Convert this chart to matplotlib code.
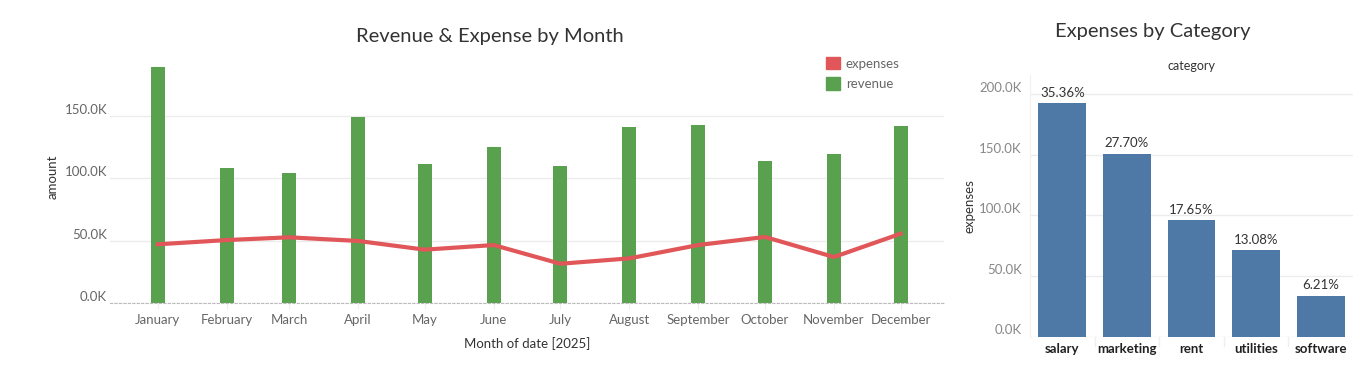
import numpy as np
import pandas as pd
import matplotlib
matplotlib.use('Agg')
from matplotlib import pyplot as plt
from matplotlib.ticker import FuncFormatter
from matplotlib.patches import Patch

plt.rcParams['font.family'] = ['Lato', 'DejaVu Sans']

months = ['January', 'February', 'March', 'April', 'May', 'June', 'July',
          'August', 'September', 'October', 'November', 'December']
month_dates = pd.date_range('2025-01-01', periods=12, freq='MS')
revenue = [189600, 108400, 104400, 149400, 111700, 125300,
           110000, 141400, 143000, 114000, 119700, 142200]
expenses = [47100, 50500, 52700, 49800, 42800, 46500,
            31500, 35800, 46500, 53000, 36900, 55600]

categories = ['salary', 'marketing', 'rent', 'utilities', 'software']
cat_expenses = [192712, 150965, 96193, 71286, 33845]

GREEN = '#59a14f'
RED = '#e15759'
BLUE = '#4e79a7'
GRID = '#ececec'
TICK = '#666666'

kfmt = FuncFormatter(lambda v, p: '%.1fK' % (v / 1000))

fig = plt.figure(figsize=(13.62, 3.91), dpi=100)

# ---- left: revenue & expense by month
ax = fig.add_axes([110/1362, 88/391, 834/1362, 253/391])
x = np.array([(d - month_dates[0]).days for d in month_dates], dtype=float)
ax.bar(x, revenue, width=6.3, color=GREEN, zorder=2)
ax.plot(x, expenses, color=RED, lw=3, zorder=3, solid_joinstyle='round')
ax.set_xlim(-21.5, 353.5)
ax.set_ylim(0, 203000)
ax.set_yticks([0, 50000, 100000, 150000])
ax.yaxis.set_major_formatter(kfmt)
ax.set_xticks(x)
ax.set_xticklabels(months)
ax.grid(axis='y', color=GRID, lw=1, zorder=0)
for s in ['top', 'right', 'left']:
    ax.spines[s].set_visible(False)
ax.spines['bottom'].set_linestyle((0, (2, 2)))
ax.spines['bottom'].set_color('#bbbbbb')
ax.spines['bottom'].set_linewidth(0.8)
ax.tick_params(axis='y', length=0, labelsize=9.5, labelcolor=TICK, pad=2)
ax.tick_params(axis='x', length=4, color='#eeeeee', labelsize=9.5,
               labelcolor=TICK, pad=4)
for lbl in ax.get_yticklabels():
    lbl.set_verticalalignment('bottom')
ax.set_ylabel('amount', fontsize=9.5, color='#333333', labelpad=0)
ax.yaxis.set_label_coords(-51/834, 0.5)
ax.set_xlabel('Month of date [2025]', fontsize=9.5, color='#333333', labelpad=8)
ax.set_title('Revenue & Expense by Month', fontsize=14.5, color='#333333')
ax.title.set_position((0.456, 1.03))
handles = [Patch(color=RED, label='expenses'), Patch(color=GREEN, label='revenue')]
leg = fig.legend(handles=handles, loc='upper left',
                 bbox_to_anchor=(822/1362, 1 - 53/391),
                 frameon=False, fontsize=9.5, handlelength=1.05,
                 handleheight=1.05, handletextpad=0.45, labelspacing=0.6,
                 borderaxespad=0, borderpad=0.3)
for t in leg.get_texts():
    t.set_color(TICK)

# ---- right: expenses by category
ax2 = fig.add_axes([1030/1362, 54.5/391, 323/1362, 261.5/391])
xc = np.arange(len(categories))
ax2.bar(xc, cat_expenses, width=0.74, color=BLUE, zorder=2)
ax2.set_xlim(-0.5, len(categories) - 0.5)
ax2.set_ylim(0, 216000)
ax2.set_yticks([0, 50000, 100000, 150000, 200000])
ax2.yaxis.set_major_formatter(kfmt)
ax2.set_xticks(xc)
ax2.set_xticklabels(categories)
ax2.grid(axis='y', color=GRID, lw=1, zorder=0)
for s in ['top', 'right', 'bottom']:
    ax2.spines[s].set_visible(False)
ax2.spines['left'].set_color('#f0f0f0')
ax2.tick_params(axis='y', length=0, labelsize=9.5, labelcolor='#888888', pad=6)
ax2.tick_params(axis='x', length=0, labelsize=9.5, labelcolor='#222222', pad=5)
for lbl in ax2.get_xticklabels():
    lbl.set_fontweight('bold')
for lbl in ax2.get_yticklabels():
    lbl.set_verticalalignment('bottom')
ax2.set_ylabel('expenses', fontsize=9.5, color='#333333', labelpad=0)
ax2.yaxis.set_label_coords(-54/323, 0.5)
total = sum(cat_expenses)
for xi, v in zip(xc, cat_expenses):
    ax2.text(xi, v + 3500, '%.2f%%' % (100 * v / total), ha='center',
             va='bottom', fontsize=9.5, color='#333333')
for b in np.arange(0.5, len(categories) - 0.5):
    ax2.plot([b, b], [0, -0.035], transform=ax2.get_xaxis_transform(),
             color='#eeeeee', lw=1, clip_on=False)
fig.text(1192/1362, 1 - 66/391, 'category', ha='center', va='center',
         fontsize=9, color='#333333')
fig.text(1153/1362, 1 - 31/391, 'Expenses by Category', ha='center',
         va='center', fontsize=14.5, color='#333333')

fig.savefig('out.png', dpi=100, facecolor='white')
